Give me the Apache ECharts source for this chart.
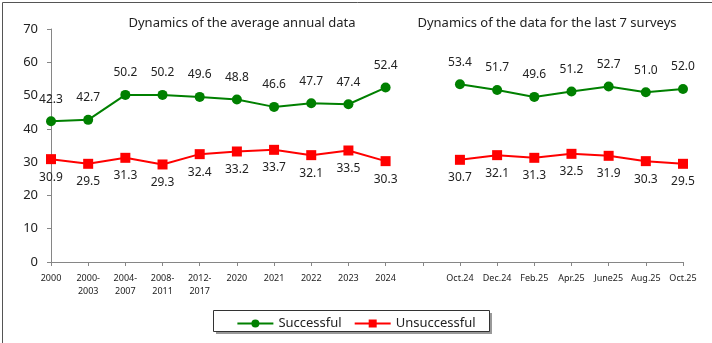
<!DOCTYPE html>
<html>
<head>
<meta charset="utf-8">
<script src="https://cdn.jsdelivr.net/npm/echarts@6/dist/echarts.min.js"></script>
<style>
  html, body { margin: 0; padding: 0; background: #fff; }
  #chart { width: 712px; height: 343px; }
</style>
</head>
<body>
<div id="chart"></div>
<script>
// categories (empty slot separates the two blocks)
const categories = ['2000', '2000-\n2003', '2004-\n2007', '2008-\n2011', '2012-\n2017', '2020', '2021', '2022', '2023', '2024', '',
  'Oct.24', 'Dec.24', 'Feb.25', 'Apr.25', 'June25', 'Aug.25', 'Oct.25'];
const successful = [42.3, 42.7, 50.2, 50.2, 49.6, 48.8, 46.6, 47.7, 47.4, 52.4, null,
  53.4, 51.7, 49.6, 51.2, 52.7, 51.0, 52.0];
const unsuccessful = [30.9, 29.5, 31.3, 29.3, 32.4, 33.2, 33.7, 32.1, 33.5, 30.3, null,
  30.7, 32.1, 31.3, 32.5, 31.9, 30.3, 29.5];
const titles = ['Dynamics of the average annual data', 'Dynamics of the data for the last 7 surveys'];

const chart = echarts.init(document.getElementById('chart'));
const fontFamily = 'Noto Sans';
const axisColor = '#868686';
const fontColor = '#222';

chart.setOption({
  animation: false,
  textStyle: { fontFamily: fontFamily },
  title: [
    { text: titles[0], left: 237, top: 12, textAlign: 'center',
      textStyle: { fontSize: 13, fontWeight: 'normal', color: fontColor, fontFamily: fontFamily } },
    { text: titles[1], left: 542, top: 12, textAlign: 'center',
      textStyle: { fontSize: 13, fontWeight: 'normal', color: fontColor, fontFamily: fontFamily } }
  ],
  graphic: [
    { type: 'rect', left: 0, top: 0, shape: { width: 711, height: 342 },
      style: { fill: 'none', stroke: '#555', lineWidth: 1 }, z: 0, silent: true },
    { type: 'rect', left: 216, top: 313, shape: { width: 276, height: 21 },
      style: { fill: '#999' }, z: 0, silent: true },
    { type: 'rect', left: 213, top: 310, shape: { width: 276, height: 21 },
      style: { fill: '#fff', stroke: '#333', lineWidth: 1 }, z: 1, silent: true }
  ],
  legend: {
    left: 'center',
    top: 312,
    itemWidth: 36,
    itemHeight: 10,
    itemGap: 12,
    z: 5,
    textStyle: { fontSize: 13, color: fontColor, fontFamily: fontFamily },
    data: ['Successful', 'Unsuccessful']
  },
  grid: { left: 51, right: 29, top: 29, bottom: 81 },
  xAxis: {
    type: 'category',
    data: categories,
    boundaryGap: false,
    axisLine: { lineStyle: { color: axisColor } },
    axisTick: { alignWithLabel: true, length: 4, lineStyle: { color: axisColor } },
    axisLabel: { interval: 0, fontSize: 9, color: fontColor, lineHeight: 13, margin: 10 }
  },
  yAxis: {
    type: 'value',
    min: 0,
    max: 70,
    interval: 10,
    axisLine: { show: true, lineStyle: { color: axisColor } },
    axisTick: { show: true, length: 4, lineStyle: { color: axisColor } },
    axisLabel: { fontSize: 13, color: fontColor, margin: 13 },
    splitLine: { show: false }
  },
  series: [
    {
      name: 'Successful',
      type: 'line',
      data: successful,
      connectNulls: false,
      symbol: 'circle',
      symbolSize: 10,
      color: '#008000',
      lineStyle: { width: 2, color: '#008000' },
      label: { show: true, position: 'top', distance: 11, fontSize: 12, color: fontColor,
        formatter: p => p.value.toFixed(1) }
    },
    {
      name: 'Unsuccessful',
      type: 'line',
      data: unsuccessful,
      connectNulls: false,
      symbol: 'rect',
      symbolSize: 10,
      color: '#ff0000',
      lineStyle: { width: 2, color: '#ff0000' },
      label: { show: true, position: 'bottom', distance: 7, fontSize: 12, color: fontColor,
        formatter: p => p.value.toFixed(1) }
    }
  ]
});
</script>
</body>
</html>
